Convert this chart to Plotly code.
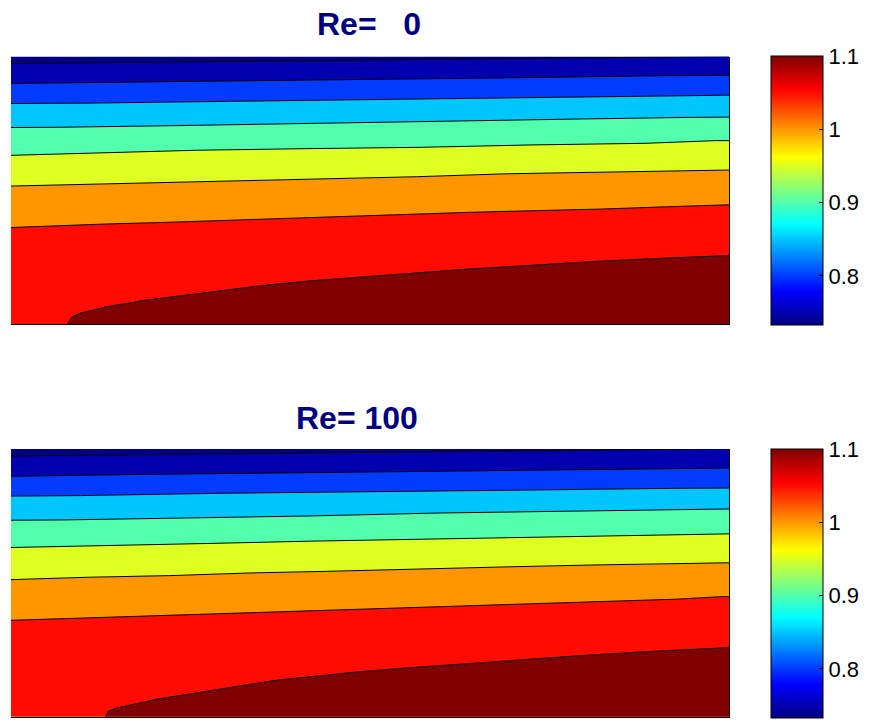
import plotly.graph_objects as go
from plotly.colors import sample_colorscale

# ---------------- data ----------------
LEVELS = [0.75, 0.80, 0.85, 0.90, 0.95, 1.00, 1.05, 1.10]
CMIN, CMAX = 0.733, 1.10
CBAR_TICKS = [0.8, 0.9, 1.0, 1.1]
CBAR_TICK_LABELS = ["0.8", "0.9", "1", "1.1"]
TITLES = ["Re=   0", "Re= 100"]

# contour lines, Re = 0  (x along the channel, h = height, both normalised 0..1)
re0_x_075 = [0, 0.259, 0.552, 0.848, 1]
re0_h_075 = [0.974, 0.981, 0.988, 0.998, 1.001]
re0_x_080 = [0, 0.178, 0.435, 0.695, 0.911, 1]
re0_h_080 = [0.900, 0.905, 0.913, 0.921, 0.929, 0.930]
re0_x_085 = [0, 0.097, 0.306, 0.528, 0.751, 0.932, 1]
re0_h_085 = [0.825, 0.826, 0.833, 0.841, 0.847, 0.855, 0.856]
re0_x_090 = [0, 0.065, 0.227, 0.416, 0.604, 0.794, 0.946, 1]
re0_h_090 = [0.735, 0.736, 0.742, 0.751, 0.759, 0.767, 0.773, 0.774]
re0_x_095 = [0, 0.104, 0.258, 0.412, 0.571, 0.727, 0.884, 0.981, 1]
re0_h_095 = [0.631, 0.639, 0.650, 0.656, 0.661, 0.670, 0.676, 0.686, 0.686]
re0_x_100 = [0, 0.078, 0.196, 0.318, 0.443, 0.565, 0.691, 0.815, 0.939, 1]
re0_h_100 = [0.516, 0.521, 0.529, 0.537, 0.545, 0.551, 0.562, 0.568, 0.574, 0.576]
re0_x_105 = [0, 0.053, 0.132, 0.213, 0.338, 0.469, 0.556, 0.641, 0.730, 0.823, 0.918, 0.981, 1]
re0_h_105 = [0.361, 0.367, 0.374, 0.380, 0.391, 0.405, 0.412, 0.418, 0.424, 0.430, 0.439, 0.445, 0.446]
re0_x_110 = [0.079, 0.085, 0.096, 0.114, 0.134, 0.162, 0.189, 0.226, 0.267, 0.305,
             0.357, 0.416, 0.482, 0.556, 0.635, 0.716, 0.806, 0.907, 1]
re0_h_110 = [0, 0.027, 0.040, 0.052, 0.065, 0.077, 0.090, 0.102, 0.115, 0.127,
             0.146, 0.161, 0.175, 0.190, 0.205, 0.218, 0.233, 0.246, 0.256]

# contour lines, Re = 100
re100_x_075 = [0, 0.255, 0.539, 0.826, 1]
re100_h_075 = [0.974, 0.980, 0.989, 0.996, 1.001]
re100_x_080 = [0, 0.177, 0.428, 0.677, 0.901, 1]
re100_h_080 = [0.898, 0.905, 0.912, 0.920, 0.928, 0.929]
re100_x_085 = [0, 0.097, 0.305, 0.519, 0.734, 0.921, 1]
re100_h_085 = [0.824, 0.826, 0.835, 0.840, 0.847, 0.853, 0.854]
re100_x_090 = [0, 0.072, 0.237, 0.418, 0.599, 0.781, 0.936, 1]
re100_h_090 = [0.734, 0.735, 0.742, 0.750, 0.761, 0.768, 0.775, 0.776]
re100_x_095 = [0, 0.124, 0.272, 0.422, 0.571, 0.721, 0.873, 0.975, 1]
re100_h_095 = [0.632, 0.638, 0.647, 0.656, 0.663, 0.669, 0.676, 0.682, 0.683]
re100_x_100 = [0, 0.109, 0.221, 0.334, 0.455, 0.577, 0.695, 0.816, 0.939, 1]
re100_h_100 = [0.512, 0.521, 0.527, 0.537, 0.544, 0.553, 0.560, 0.567, 0.574, 0.575]
re100_x_105 = [0, 0.096, 0.173, 0.249, 0.330, 0.412, 0.494, 0.575, 0.660, 0.749, 0.836, 0.926, 0.987, 1]
re100_h_105 = [0.360, 0.368, 0.374, 0.381, 0.389, 0.396, 0.402, 0.409, 0.417, 0.424, 0.430, 0.439, 0.448, 0.449]
re100_x_110 = [0.132, 0.135, 0.145, 0.162, 0.180, 0.203, 0.226, 0.253, 0.281, 0.319,
               0.372, 0.428, 0.486, 0.556, 0.628, 0.706, 0.788, 0.879, 0.971, 1]
re100_h_110 = [0, 0.019, 0.031, 0.041, 0.052, 0.065, 0.075, 0.087, 0.100, 0.115,
               0.137, 0.153, 0.168, 0.183, 0.197, 0.212, 0.227, 0.242, 0.256, 0.258]

RE0_LINES = [(re0_x_075, re0_h_075), (re0_x_080, re0_h_080), (re0_x_085, re0_h_085),
             (re0_x_090, re0_h_090), (re0_x_095, re0_h_095), (re0_x_100, re0_h_100),
             (re0_x_105, re0_h_105), (re0_x_110, re0_h_110)]
RE100_LINES = [(re100_x_075, re100_h_075), (re100_x_080, re100_h_080), (re100_x_085, re100_h_085),
               (re100_x_090, re100_h_090), (re100_x_095, re100_h_095), (re100_x_100, re100_h_100),
               (re100_x_105, re100_h_105), (re100_x_110, re100_h_110)]

# ---------------- style ----------------
JET = [[0.0, "rgb(0,0,128)"], [0.125, "rgb(0,0,255)"], [0.375, "rgb(0,255,255)"],
       [0.625, "rgb(255,255,0)"], [0.875, "rgb(255,0,0)"], [1.0, "rgb(128,0,0)"]]


def jet(v):
    f = min(max((v - CMIN) / (CMAX - CMIN), 0.0), 1.0)
    return sample_colorscale(JET, [f])[0]


W, H = 873, 720
XDOM = [11 / W, 729 / W]
YDOMS = [[1 - 324 / H, 1 - 56.7 / H], [1 - 716.7 / H, 1 - 449 / H]]
CB_Y = [1 - 190.5 / H, 1 - 583.5 / H]
TITLE_POS = [(369 / W, 1 - 24 / H), (357 / W, 1 - 417.5 / H)]
FONT = "Liberation Sans, Arial, sans-serif"

fig = go.Figure()

for p, lines in enumerate([RE0_LINES, RE100_LINES]):
    xa = "x" if p == 0 else "x2"
    ya = "y" if p == 0 else "y2"
    # lowest band colour as background of the plot area
    fig.add_shape(type="rect", xref=xa + " domain", yref=ya + " domain",
                  x0=0, x1=1, y0=0, y1=1, fillcolor=jet(CMIN),
                  line=dict(width=0), layer="below")
    for lev, (xs, hs) in zip(LEVELS, lines):
        fig.add_trace(go.Scatter(
            x=xs, y=hs, mode="lines", fill="tozeroy", fillcolor=jet(lev),
            line=dict(color="black", width=1), xaxis=xa, yaxis=ya,
            hoverinfo="skip", showlegend=False))
    # colour bar (continuous jet)
    cbar = dict(x=771 / W, xanchor="left", xpad=0, ypad=0,
                y=CB_Y[p], yanchor="middle",
                len=269, lenmode="pixels",
                thickness=52, thicknessmode="pixels",
                outlinecolor="black", outlinewidth=1,
                tickvals=CBAR_TICKS, ticktext=CBAR_TICK_LABELS,
                ticks="inside", ticklen=4, tickcolor="black",
                tickfont=dict(family=FONT, size=22, color="black"))
    fig.add_trace(go.Scatter(
        x=[None] * len(LEVELS), y=[None] * len(LEVELS), mode="markers",
        xaxis=xa, yaxis=ya, showlegend=False, hoverinfo="skip",
        marker=dict(size=0, opacity=0, color=LEVELS, cmin=CMIN, cmax=CMAX,
                    colorscale=JET, showscale=True, colorbar=cbar)))
    fig.add_annotation(x=TITLE_POS[p][0], y=TITLE_POS[p][1], xref="paper", yref="paper",
                       text="<b>" + TITLES[p].replace(" ", "\u00a0") + "</b>",
                       showarrow=False, xanchor="center", yanchor="middle",
                       font=dict(family=FONT, size=32, color="rgb(0,0,128)"))

axis_common = dict(range=[0, 1], showticklabels=False, showgrid=False, zeroline=False,
                   ticks="", fixedrange=True)
fig.update_layout(
    width=W, height=H, margin=dict(l=0, r=0, t=0, b=0),
    paper_bgcolor="white", plot_bgcolor="white",
    xaxis=dict(domain=XDOM, anchor="y", showline=True, linecolor="black", linewidth=1, **axis_common),
    yaxis=dict(domain=YDOMS[0], anchor="x", side="right", showline=True, linecolor="black",
               linewidth=1, **axis_common),
    xaxis2=dict(domain=XDOM, anchor="y2", showline=True, linecolor="black", linewidth=1, **axis_common),
    yaxis2=dict(domain=YDOMS[1], anchor="x2", side="right", showline=True, linecolor="black",
                linewidth=1, **axis_common),
)

fig.write_html("out.html")
